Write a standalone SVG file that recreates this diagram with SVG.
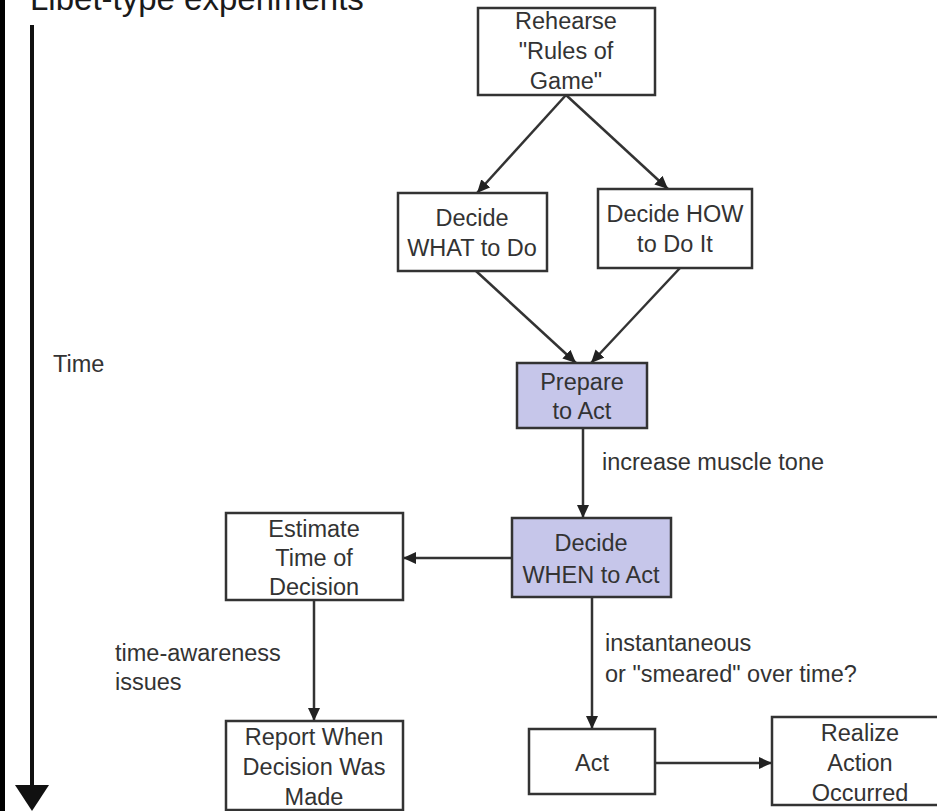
<svg xmlns="http://www.w3.org/2000/svg" width="937" height="811" viewBox="0 0 937 811">
<style>
  .box { fill: #ffffff; stroke: #333333; stroke-width: 2.5; }
  .hl { fill: #c6c6ea; stroke: #333333; stroke-width: 2.5; }
  .t { font-family: "Liberation Sans", Arial, sans-serif; font-size: 23.5px; fill: #333333; text-anchor: middle; }
  .lbl { font-family: "Liberation Sans", Arial, sans-serif; font-size: 23.5px; fill: #333333; }
  .edge { stroke: #333333; stroke-width: 2.5; fill: none; marker-end: url(#ah); }
</style>
<defs>
  <marker id="ah" markerUnits="userSpaceOnUse" markerWidth="13" markerHeight="12" refX="13" refY="6" orient="auto">
    <path d="M0,0 L13,6 L0,12 z" fill="#222222"/>
  </marker>
</defs>
<rect x="0" y="0" width="937" height="811" fill="#ffffff"/>
<rect x="0" y="0" width="5" height="811" fill="#000000"/>

<text x="30" y="10" font-family="Liberation Sans, Arial, sans-serif" font-size="33" fill="#1a1a1a">Libet-type experiments</text>

<g id="time-axis">
  <line x1="32" y1="25" x2="32" y2="788" stroke="#111111" stroke-width="4"/>
  <polygon points="15,785 49,785 32,811" fill="#111111"/>
  <text class="lbl" x="53" y="372">Time</text>
</g>

<g id="connectors">
  <line class="edge" x1="566" y1="95" x2="477" y2="193"/>
  <line class="edge" x1="566" y1="95" x2="668" y2="189"/>
  <line class="edge" x1="476" y1="271" x2="576" y2="363"/>
  <line class="edge" x1="680" y1="268" x2="591" y2="363"/>
  <line class="edge" x1="583" y1="428" x2="583" y2="518"/>
  <line class="edge" x1="512" y1="558" x2="403" y2="558"/>
  <line class="edge" x1="314" y1="600" x2="314" y2="721"/>
  <line class="edge" x1="592" y1="597" x2="592" y2="729"/>
  <line class="edge" x1="655" y1="763" x2="772" y2="763"/>
  <text class="lbl" x="602" y="470">increase muscle tone</text>
  <text class="lbl" x="115" y="661">time-awareness</text>
  <text class="lbl" x="115" y="690">issues</text>
  <text class="lbl" x="605" y="651">instantaneous</text>
  <text class="lbl" x="605" y="682">or "smeared" over time?</text>
</g>

<g id="rehearse">
  <rect class="box" x="478" y="8" width="177" height="87"/>
  <text class="t" x="566" y="29">Rehearse</text>
  <text class="t" x="566" y="59">"Rules of</text>
  <text class="t" x="566" y="89">Game"</text>
</g>

<g id="decide-what">
  <rect class="box" x="398" y="193" width="149" height="78"/>
  <text class="t" x="472" y="226">Decide</text>
  <text class="t" x="472" y="256">WHAT to Do</text>
</g>

<g id="decide-how">
  <rect class="box" x="598" y="189" width="154" height="79"/>
  <text class="t" x="675" y="222">Decide HOW</text>
  <text class="t" x="675" y="252">to Do It</text>
</g>

<g id="prepare">
  <rect class="hl" x="517" y="363" width="130" height="65"/>
  <text class="t" x="582" y="390">Prepare</text>
  <text class="t" x="582" y="419">to Act</text>
</g>

<g id="decide-when">
  <rect class="hl" x="512" y="518" width="159" height="79"/>
  <text class="t" x="591" y="551">Decide</text>
  <text class="t" x="591" y="583">WHEN to Act</text>
</g>

<g id="estimate">
  <rect class="box" x="226" y="513" width="177" height="87"/>
  <text class="t" x="314" y="537">Estimate</text>
  <text class="t" x="314" y="566">Time of</text>
  <text class="t" x="314" y="595">Decision</text>
</g>

<g id="report">
  <rect class="box" x="226" y="721" width="177" height="89"/>
  <text class="t" x="314" y="745">Report When</text>
  <text class="t" x="314" y="775">Decision Was</text>
  <text class="t" x="314" y="805">Made</text>
</g>

<g id="act">
  <rect class="box" x="529" y="729" width="126" height="65"/>
  <text class="t" x="592" y="771">Act</text>
</g>

<g id="realize">
  <rect class="box" x="772" y="717" width="178" height="88"/>
  <text class="t" x="860" y="741">Realize</text>
  <text class="t" x="860" y="771">Action</text>
  <text class="t" x="860" y="801">Occurred</text>
</g>
</svg>
